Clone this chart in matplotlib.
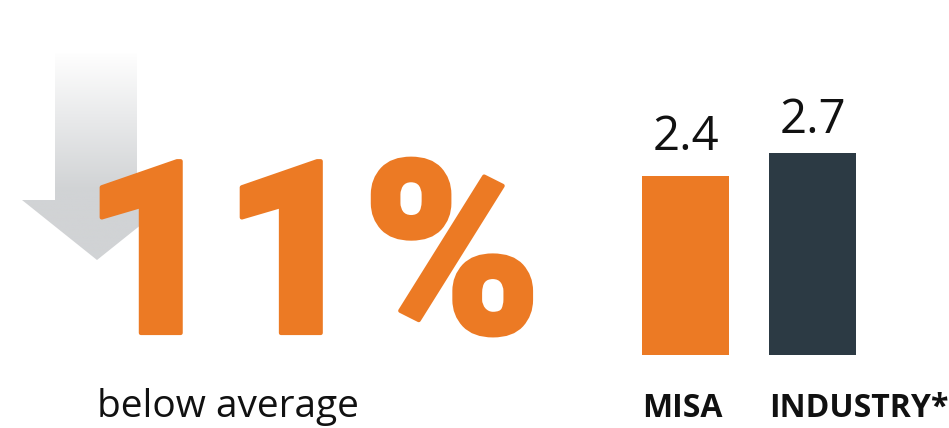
import numpy as np
import matplotlib.pyplot as plt
from matplotlib.patches import Polygon
from matplotlib import patheffects
from matplotlib.colors import LinearSegmentedColormap

# data
categories = ["MISA", "INDUSTRY*"]
values = [2.4, 2.7]
value_labels = ["2.4", "2.7"]
headline = "11%"
subline = "below average"

ORANGE = "#EC7A24"
SLATE = "#2C3A44"
bar_colors = [ORANGE, SLATE]
label_offsets = [26, 20]  # px between bar top and value label baseline

W, H = 949, 428
fig = plt.figure(figsize=(W / 100, H / 100), dpi=100)

# full-figure layer in pixel coordinates for the arrow and big text
bg = fig.add_axes([0, 0, 1, 1])
bg.axis("off")

# gray down arrow with a fade at the top
arrow = Polygon(
    [(55, 53), (137, 53), (137, 200), (172, 200), (97, 260), (22, 200), (55, 200)],
    closed=True, facecolor="none", edgecolor="none",
)
bg.add_patch(arrow)
ys = np.linspace(53, 260, 300)
grad = np.clip((ys - 50) / (190 - 50), 0, 1).reshape(-1, 1)
cmap = LinearSegmentedColormap.from_list("fade", ["#ffffff", "#d1d3d5"])
im = bg.imshow(grad, extent=[22, 172, 260, 53], origin="upper", aspect="auto",
               cmap=cmap, vmin=0, vmax=1)
im.set_clip_path(arrow)

bg.set_xlim(0, W)
bg.set_ylim(H, 0)

bg.text(82, 333, headline, fontsize=174, family="Roboto",
        weight="black", color=ORANGE, ha="left", va="baseline",
        path_effects=[patheffects.withStroke(linewidth=3, foreground=ORANGE)])
bg.text(97, 417, subline, fontsize=28, family="Open Sans", color="#111111",
        ha="left", va="baseline")

# bars
ax = fig.add_axes([600 / W, (H - 355) / H, 300 / W, 305 / H])
width = 0.685
x = np.arange(len(categories))
ax.bar(x, values, width=width, color=bar_colors)
ax.set_xlim(-0.673, 1.689)
ax.set_ylim(0, 305 / 74.7)
ax.axis("off")

for i, (v, lab, off) in enumerate(zip(values, value_labels, label_offsets)):
    ax.annotate(lab, (i, v), xytext=(0, off), textcoords="offset pixels",
                ha="center", va="baseline", fontsize=34, family="Open Sans",
                color="#111111")
for i, cat in enumerate(categories):
    ax.annotate(cat, (i - width / 2, 0), xytext=(0, -62), textcoords="offset pixels",
                ha="left", va="baseline", fontsize=23, family="Open Sans",
                weight="bold", color="#111111", annotation_clip=False)

fig.savefig("out.png", dpi=100, facecolor="white")
